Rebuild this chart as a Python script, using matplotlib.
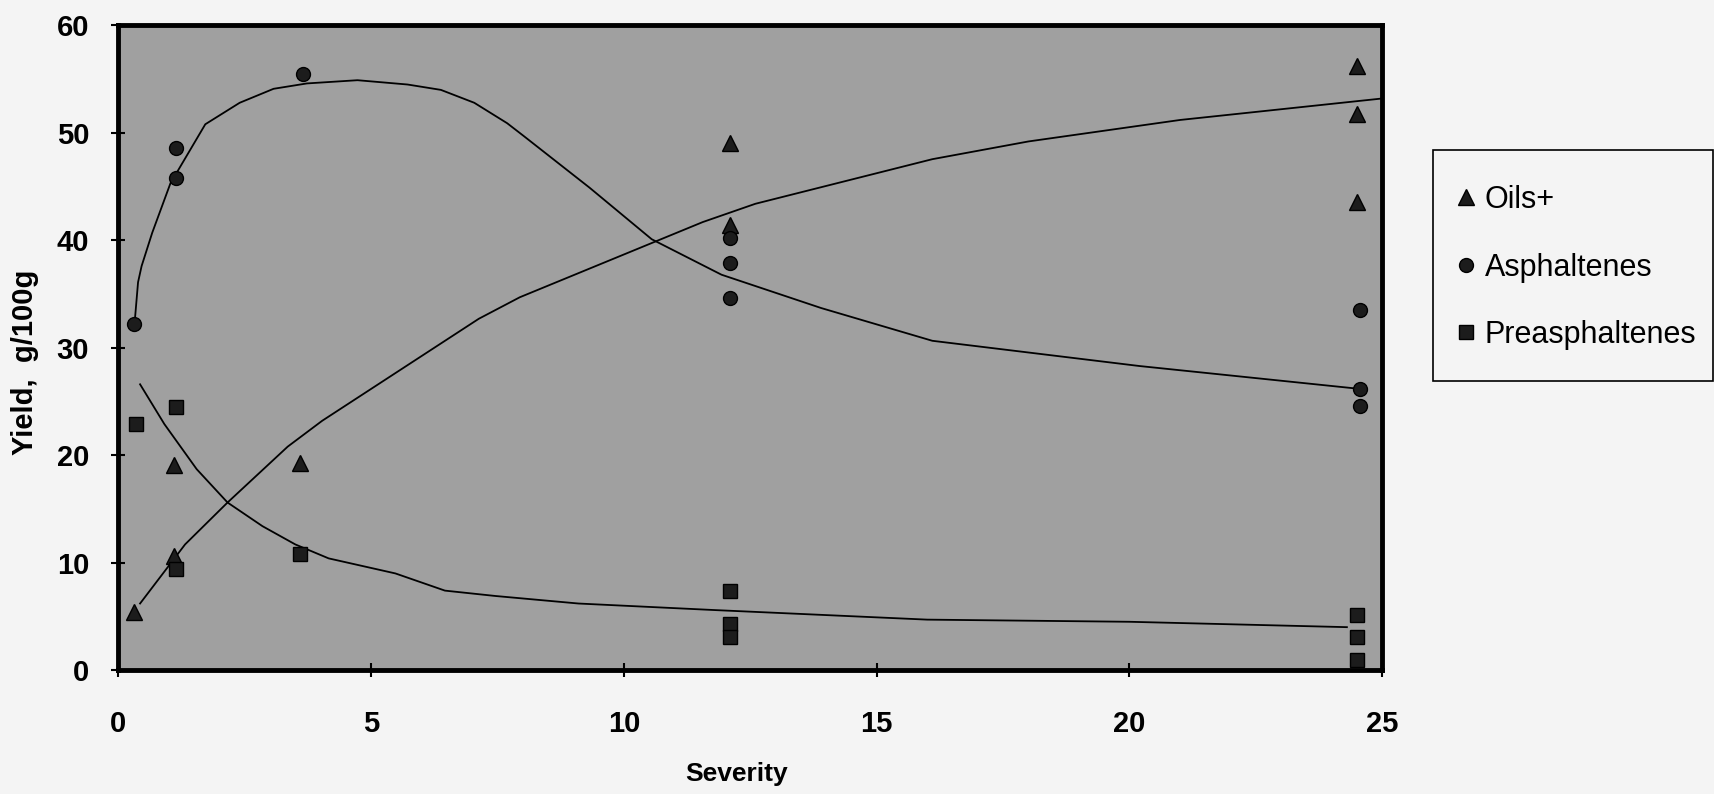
import matplotlib
matplotlib.use("Agg")
import matplotlib.pyplot as plt
from matplotlib import font_manager
from matplotlib.lines import Line2D
from matplotlib.patches import Rectangle

# Scatter points (Severity, Yield g/100g)
oils_x = [0.3, 1.1, 1.1, 3.6, 12.1, 12.1, 24.5, 24.5, 24.5]
oils_y = [5.4, 10.6, 19.1, 19.3, 49.1, 41.4, 56.2, 51.8, 43.6]

asph_x = [0.3, 1.15, 1.15, 3.65, 12.1, 12.1, 12.1, 24.55, 24.55, 24.55]
asph_y = [32.2, 48.6, 45.8, 55.5, 40.2, 37.9, 34.6, 33.5, 26.2, 24.6]

pre_x = [0.35, 1.15, 1.15, 3.6, 12.1, 12.1, 12.1, 24.5, 24.5, 24.5]
pre_y = [22.9, 24.5, 9.4, 10.8, 7.4, 4.3, 3.1, 5.1, 3.1, 0.9]

# Fitted curves
oils_curve_x = [0.43, 1.32, 2.16, 3.35, 4.03, 7.13, 7.94, 11.56, 12.6, 16.1, 18.0, 21.0, 22.2, 25.0]
oils_curve_y = [6.2, 11.7, 15.6, 20.8, 23.2, 32.7, 34.7, 41.7, 43.4, 47.55, 49.2, 51.2, 51.8, 53.2]

asph_curve_x = [0.32, 0.39, 0.46, 0.67, 1.03, 1.72, 2.40, 3.07, 3.73, 4.73, 5.72, 6.38, 7.04,
                7.69, 8.02, 9.32, 10.55, 11.93, 13.9, 16.1, 20.2, 24.5]
asph_curve_y = [32.2, 36.1, 37.6, 40.7, 45.3, 50.8, 52.8, 54.1, 54.6, 54.9, 54.5, 54.0, 52.8,
                50.9, 49.7, 44.9, 40.1, 36.8, 33.7, 30.65, 28.3, 26.2]

pre_curve_x = [0.43, 0.91, 1.55, 2.16, 2.85, 3.5, 4.16, 5.48, 6.46, 7.46, 9.1, 11.75, 16.0, 20.0, 24.3]
pre_curve_y = [26.6, 22.9, 18.7, 15.6, 13.4, 11.7, 10.4, 9.0, 7.4, 6.9, 6.2, 5.6, 4.7, 4.5, 4.0]

x_ticks = [0, 5, 10, 15, 20, 25]
y_ticks = [0, 10, 20, 30, 40, 50, 60]
labels = ["Oils+", "Asphaltenes", "Preasphaltenes"]


def pick_font(name, fallback):
    try:
        font_manager.findfont(name, fallback_to_default=False)
        return name
    except Exception:
        return fallback


base_font = pick_font("Liberation Sans", "DejaVu Sans")
narrow_font = pick_font("Liberation Sans Narrow", base_font)
plt.rcParams["font.family"] = [base_font, "DejaVu Sans"]

bg = "#f4f4f4"
fig = plt.figure(figsize=(17.15, 7.94), dpi=100, facecolor=bg)
ax = fig.add_axes([0.069, 0.156, 0.737, 0.812])
ax.set_facecolor("#a0a0a0")

# curves
ax.plot(oils_curve_x, oils_curve_y, color="black", lw=1.3)
ax.plot(asph_curve_x, asph_curve_y, color="black", lw=1.3)
ax.plot(pre_curve_x, pre_curve_y, color="black", lw=1.3)

# points
mk = dict(linestyle="none", markeredgecolor="black", markerfacecolor="#1c1c1c", zorder=3)
ax.plot(oils_x, oils_y, marker="^", markersize=11, **mk)
ax.plot(asph_x, asph_y, marker="o", markersize=10, **mk)
ax.plot(pre_x, pre_y, marker="s", markersize=10, **mk)

ax.set_xlim(0, 25)
ax.set_ylim(0, 60)
ax.set_xticks(x_ticks)
ax.set_yticks(y_ticks)

for s in ax.spines.values():
    s.set_linewidth(3.5)
    s.set_color("black")

ax.tick_params(axis="both", direction="inout", length=10, width=1.5, color="black")
ax.tick_params(axis="x", pad=24, labelsize=21)
ax.tick_params(axis="y", pad=16, labelsize=21)
for t in ax.get_xticklabels() + ax.get_yticklabels():
    t.set_fontweight("bold")

ax.set_xlabel("Severity", fontsize=19, fontweight="bold", family=[narrow_font, "DejaVu Sans"])
ax.xaxis.set_label_coords(0.489, -0.142)
ax.set_ylabel("Yield,  g/100g", fontsize=21, fontweight="bold", family=[narrow_font, "DejaVu Sans"])
ax.yaxis.set_label_coords(-0.063, 0.478)

# legend: box drawn separately, entries placed without frame
fig.patches.append(Rectangle((0.8356, 0.5202), 0.1633, 0.291, transform=fig.transFigure,
                             facecolor=bg, edgecolor="black", linewidth=1.2, zorder=0))
handles = [
    Line2D([], [], marker="^", markersize=11, **mk),
    Line2D([], [], marker="o", markersize=10, **mk),
    Line2D([], [], marker="s", markersize=10, **mk),
]
fig.legend(handles, labels, loc="upper left", bbox_to_anchor=(0.8459, 0.767),
           fontsize=22, frameon=False, borderpad=0, borderaxespad=0,
           handlelength=1.0, handletextpad=0.12, labelspacing=1.23)

fig.savefig("out.png", dpi=100, facecolor=bg)
